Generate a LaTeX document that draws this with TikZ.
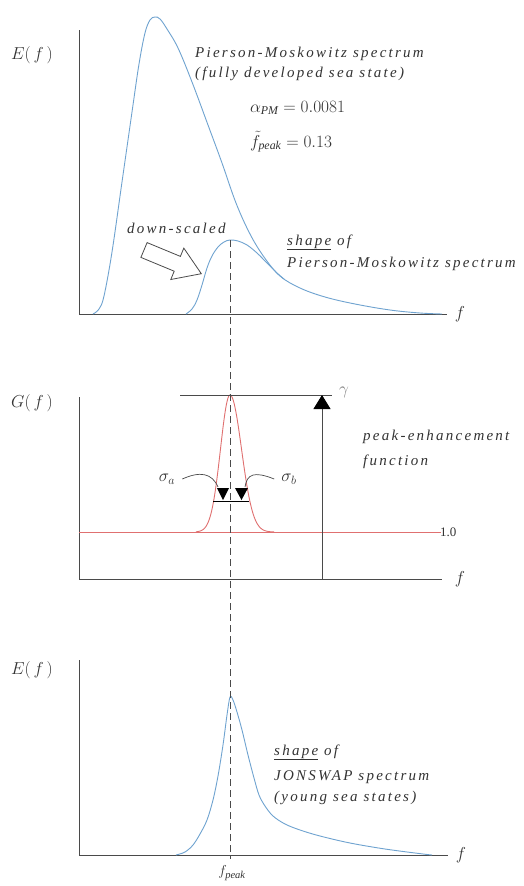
\documentclass[tikz,border=0pt]{standalone}
\usepackage{fontspec}
\setmainfont{Liberation Serif}
\newfontfamily\lblfont[LetterSpace=15]{Liberation Serif}
\usetikzlibrary{arrows.meta}
\definecolor{axisgray}{HTML}{4A4A4A}
\definecolor{specblue}{HTML}{6FA3D0}
\definecolor{gred}{HTML}{E07070}
\definecolor{txt}{HTML}{333333}
\tikzset{
  axisline/.style={draw=axisgray, line width=0.9pt},
  spec/.style={draw=specblue, line width=0.9pt},
  redline/.style={draw=gred, line width=0.9pt},
  lab/.style={font=\fontsize{15}{19}\selectfont\lblfont\itshape, text=txt, inner sep=0pt, anchor=base west},
  mlab/.style={font=\fontsize{17}{21}\selectfont, text=txt, inner sep=0pt},
  leader/.style={draw=axisgray, line width=0.7pt},
  dashline/.style={draw=axisgray, line width=0.9pt, dash pattern=on 7pt off 4pt},
}
\begin{document}
\begin{tikzpicture}[x=1pt,y=-1pt]
\useasboundingbox (0,0) rectangle (523,886);
\fill[white] (0,0) rectangle (523,886);

% ---------- top panel ----------
\coordinate (o1) at (79,314);
\coordinate (t1) at (79,30);
\coordinate (e1) at (447,314);
\draw[axisline] (t1) -- (o1) -- (e1);
\node[mlab] (E1) at (32,55) {$E(\,f\,)$};
\node[mlab] (f1) at (460,314) {$f$};

\draw[spec] plot[smooth, tension=0.6] coordinates {(93,314) (99,309) (104,296) (112,252) (122,182) (132,112) (139,64) (145,33) (150,20) (155,17) (160,19) (167,29) (178,48) (192,82) (208,125) (222,163) (236,203) (250,234) (264,257) (280,276) (300,288) (325,297) (355,304) (390,310) (420,313) (442,314)};
\draw[spec] plot[smooth, tension=0.6] coordinates {(186,314) (192,309) (197,300) (202,285) (207,268) (212,256) (218,247) (224,242) (230,240) (238,241) (247,245) (257,253) (267,263) (277,273) (284,279)};

\node[lab] (pm1) at (195,57) {Pierson-Moskowitz spectrum};
\node[lab] (pm2) at (195,77) {(fully developed sea state)};
\node[mlab, anchor=base west] (alpha) at (250,112) {$\alpha_{\mathit{PM}} = 0.0081$};
\node[mlab, anchor=base west] (fpk) at (250,147) {$\tilde{f}_{\mathit{peak}} = 0.13$};
\node[lab] (ds) at (127,233) {down-scaled};
\node[lab] (sh1) at (287,245) {\underline{shape} of};
\node[lab] (sh2) at (287,267) {Pierson-Moskowitz spectrum};

% hollow arrow
\draw[draw=axisgray, fill=white, line width=0.8pt, line join=miter]
  (147.1,242.6) -- (180.4,256.4) -- (183.8,248.1) -- (201.3,273.7)
  -- (170.8,279.5) -- (174.2,271.2) -- (140.9,257.4) -- cycle;

% ---------- middle panel ----------
\coordinate (o2) at (79,579);
\coordinate (t2) at (79,397);
\coordinate (e2) at (442,579);
\draw[axisline] (t2) -- (o2) -- (e2);
\node[mlab] (G) at (32,403) {$G(\,f\,)$};
\node[mlab] (f2) at (460,579) {$f$};

\coordinate (r0) at (79,532);
\coordinate (r1) at (441,532);
\draw[redline] (r0) -- (r1);
\node[mlab, anchor=west, font=\fontsize{13}{15}\selectfont] (one) at (440,532) {1.0};

\draw[redline] plot[domain=196:230, samples=60, smooth] (\x, {532-137*exp(-((\x-230)^2)/(2*9.5*9.5))})
  -- plot[domain=230:274, samples=70, smooth] (\x, {532-137*exp(-((\x-230)^2)/(2*11.5*11.5))});

\coordinate (g0) at (180,395);
\coordinate (g1) at (332,395);
\draw[axisline] (g0) -- (g1);
\node[mlab, text=axisgray!70] (gam) at (344,392) {$\gamma$};
\coordinate (ab) at (322,579);
\coordinate (at) at (322,395);
\draw[axisline, -{Triangle[width=17pt,length=14pt,color=black]}] (ab) -- (at);

\node[lab] (pe1) at (363,440) {peak-enhancement};
\node[lab] (pe2) at (363,465) {function};

% sigma marks
\coordinate (s0) at (213,501);
\coordinate (s1) at (249,501);
\draw[draw=black, line width=0.8pt] (s0) -- (s1);
\fill[black] (217,488) -- (229,488) -- (223,500) -- cycle;
\fill[black] (235,488) -- (248,488) -- (241.5,500) -- cycle;
\node[mlab] (siga) at (167,479) {$\sigma_a$};
\node[mlab] (sigb) at (289,479) {$\sigma_b$};
\coordinate (la) at (218,487);
\coordinate (lb) at (245,487);
\draw[leader] ([xshift=7pt]siga.east) .. controls (200,471) and (212,473) .. (la);
\draw[leader] ([xshift=-7pt]sigb.west) .. controls (254,471) and (247,474) .. (lb);

% ---------- bottom panel ----------
\coordinate (o3) at (79,855);
\coordinate (t3) at (79,660);
\coordinate (e3) at (448,855);
\draw[axisline] (t3) -- (o3) -- (e3);
\node[mlab] (E3) at (32,670) {$E(\,f\,)$};
\node[mlab] (f3) at (461,855) {$f$};

\draw[spec] plot[smooth, tension=0.55] coordinates {(176,855) (185,852) (193,845) (200,834) (207,820) (213,800) (218,776) (223,745) (227,715) (230,697) (233,700) (237,712) (242,730) (248,755) (254,778) (259,795) (265,806) (273,816) (285,824) (300,830) (320,836) (350,843) (385,849) (423,854) (432,855)};

\node[lab] (js1) at (274,755) {\underline{shape} of};
\node[lab] (js2) at (274,780) {JONSWAP spectrum};
\node[lab] (js3) at (274,801) {(young sea states)};
\node[mlab, font=\fontsize{15}{18}\selectfont] (fp) at (232,873) {$f_{\mathit{peak}}$};

% dashed f_peak line
\coordinate (dtop) at (230,240);
\coordinate (dbot) at (230,859);
\draw[dashline] (dtop) -- (dbot);
\end{tikzpicture}
\end{document}
